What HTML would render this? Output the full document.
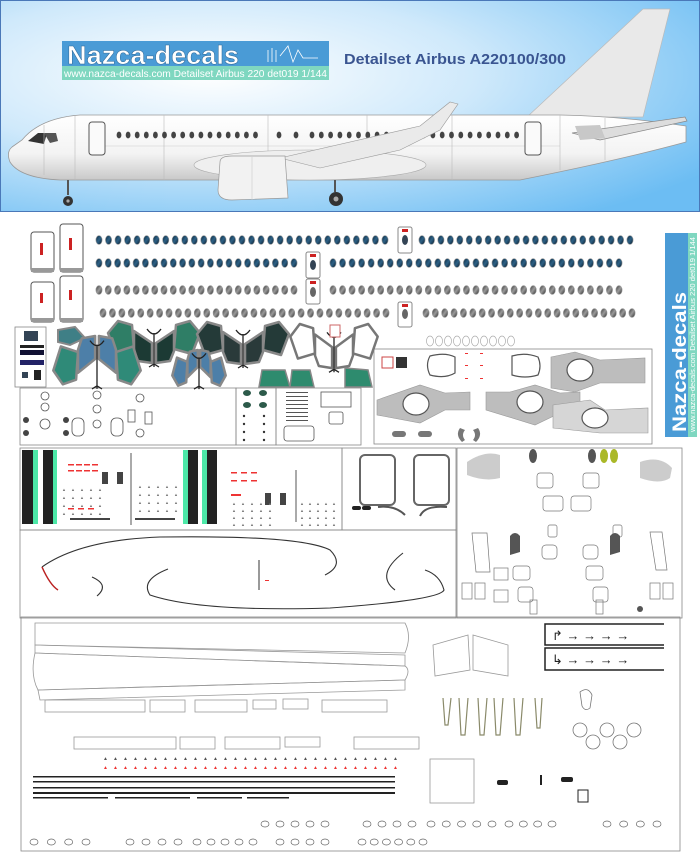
<!DOCTYPE html>
<html><head><meta charset="utf-8"><style>
html,body{margin:0;padding:0;background:#fff;}
svg{display:block}
text{font-family:"Liberation Sans",sans-serif}
</style></head><body>
<svg id="s" width="700" height="857" viewBox="0 0 700 857" xmlns="http://www.w3.org/2000/svg">
<defs>
<radialGradient id="sky" cx="0.3" cy="0.35" r="0.85">
<stop offset="0" stop-color="#ffffff"/><stop offset="0.45" stop-color="#cfe9fb"/><stop offset="1" stop-color="#6cbdf3"/>
</radialGradient>
<linearGradient id="fus" x1="0" y1="0" x2="0" y2="1">
<stop offset="0" stop-color="#ffffff"/><stop offset="0.6" stop-color="#f3f3f3"/><stop offset="1" stop-color="#c9c9c9"/>
</linearGradient>
<linearGradient id="win" x1="0" y1="0" x2="1" y2="1">
<stop offset="0" stop-color="#0d2a40"/><stop offset="0.5" stop-color="#2e6185"/><stop offset="1" stop-color="#0a1c2c"/>
</linearGradient>
<linearGradient id="grw" x1="0" y1="0" x2="1" y2="1">
<stop offset="0" stop-color="#3a3a3a"/><stop offset="0.5" stop-color="#9a9a9a"/><stop offset="1" stop-color="#2a2a2a"/>
</linearGradient>
</defs>
<rect x="0.5" y="0.5" width="699" height="211" fill="url(#sky)" stroke="#4a78b8"/>
<path d="M527 117 L643 9 L670 9 L643 117 Z" fill="#e9e9e9" stroke="#bbb" stroke-width="0.7"/>
<path d="M22 140 Q40 118 80 115 L560 115 Q620 116 686 126 L686 142 Q620 160 520 180 L60 180 Q20 178 10 162 Q6 152 12 147 Z" fill="url(#fus)" stroke="#999" stroke-width="0.8"/>
<path d="M28 141 L38 133 L47 133 L44 144 Z" fill="#333"/>
<path d="M44 133 L56 133 L58 141 L50 143Z" fill="#555"/>
<line x1="100" y1="146" x2="560" y2="146" stroke="#ccc" stroke-width="0.6"/>
<g stroke="#bbb" stroke-width="0.6"><line x1="44" y1="125" x2="44" y2="175"/><line x1="75" y1="116" x2="75" y2="180"/><line x1="164" y1="115" x2="164" y2="180"/><line x1="268" y1="115" x2="268" y2="176"/><line x1="367" y1="115" x2="367" y2="180"/><line x1="452" y1="115" x2="452" y2="180"/><line x1="560" y1="115" x2="560" y2="170"/><line x1="605" y1="118" x2="605" y2="160"/></g>
<rect x="89" y="122" width="16" height="33" rx="3" fill="#fafafa" stroke="#555"/>
<rect x="525" y="122" width="16" height="33" rx="3" fill="#fafafa" stroke="#555"/>
<g id="fw"></g>
<ellipse cx="310" cy="165" rx="116" ry="15" fill="#efefef" stroke="#aaa" stroke-width="0.6"/>
<path d="M280 158 L420 126 L450 102 L458 104 L440 130 L400 150 L320 168 Z" fill="#eaeaea" stroke="#999" stroke-width="0.6"/>
<path d="M220 162 Q220 156 232 156 L285 156 L288 198 L232 200 Q218 200 218 190 Z" fill="#f2f2f2" stroke="#999" stroke-width="0.7"/>
<line x1="252" y1="157" x2="252" y2="200" stroke="#ccc" stroke-width="0.6"/>
<path d="M572 133 L685 117 L687 121 L600 140 Z" fill="#ddd" stroke="#888" stroke-width="0.7"/>
<path d="M575 126 L600 125 L605 138 L580 140 Z" fill="#c8c8c8"/>
<line x1="68" y1="180" x2="68" y2="195" stroke="#555" stroke-width="2"/><circle cx="68" cy="201" r="5" fill="#333"/><circle cx="68" cy="201" r="1.6" fill="#aaa"/>
<line x1="335" y1="180" x2="335" y2="192" stroke="#555" stroke-width="2"/><circle cx="336" cy="199" r="7" fill="#333"/><circle cx="336" cy="199" r="2.5" fill="#aaa"/>
<rect x="62" y="41" width="267" height="25" fill="#4a9bd6"/>
<rect x="62" y="66" width="267" height="14" fill="#7fd7c0"/>
<text x="67" y="64" font-size="26" font-weight="bold" fill="#fff" stroke="#2f6a9a" stroke-width="0.5" textLength="172" lengthAdjust="spacingAndGlyphs">Nazca-decals</text>
<text x="64" y="77" font-size="10" fill="#fff" textLength="263" lengthAdjust="spacingAndGlyphs">www.nazca-decals.com  Detailset Airbus 220 det019 1/144</text>
<g stroke="#fff" stroke-width="0.8" fill="none"><path d="M268 50 L268 62 M272 48 L272 62 M276 50 L276 62 M280 56 L288 46 L293 62 L298 50 L303 58 L318 58"/></g>
<text x="344" y="64" font-size="15" font-weight="bold" fill="#3a5591" textLength="222" lengthAdjust="spacingAndGlyphs">Detailset Airbus A220100/300</text>
<g fill="none" stroke="#888" stroke-width="0.8">
<rect x="15" y="327" width="31" height="60"/>
<rect x="20" y="388" width="216" height="57"/>
<rect x="236" y="388" width="40" height="57"/>
<rect x="276" y="388" width="85" height="57"/>
<rect x="374" y="349" width="278" height="95"/>
<rect x="20" y="448" width="322" height="82"/>
<rect x="342" y="448" width="114" height="82"/>
<rect x="457" y="448" width="225" height="170"/>
<rect x="20" y="530" width="436" height="88"/>
<rect x="21" y="617" width="659" height="234"/>
</g>
<rect x="665" y="233" width="32" height="204" fill="#4a9bd6"/>
<rect x="688" y="233" width="9" height="204" fill="#7fd7c0"/>
<text transform="translate(686,432) rotate(-90)" font-size="19" font-weight="bold" fill="#fff" textLength="140" lengthAdjust="spacingAndGlyphs">Nazca-decals</text>
<text transform="translate(695,432) rotate(-90)" font-size="7" fill="#fff" textLength="195" lengthAdjust="spacingAndGlyphs">www.nazca-decals.com Detailset Airbus 220 det019 1/144</text>
<g fill="#fff" stroke="#555" stroke-width="1">
<rect x="31" y="232" width="23" height="40" rx="3"/><rect x="60" y="224" width="23" height="48" rx="3"/>
<rect x="31" y="282" width="23" height="40" rx="3"/><rect x="60" y="276" width="23" height="46" rx="3"/>
</g>
<g fill="#999"><rect x="31" y="268" width="23" height="4"/><rect x="60" y="268" width="23" height="4"/><rect x="31" y="318" width="23" height="4"/><rect x="60" y="318" width="23" height="4"/></g>
<g fill="#fff" stroke="#888" stroke-width="1">
<rect x="398" y="227" width="14" height="26" rx="2"/><rect x="306" y="252" width="14" height="26" rx="2"/>
<rect x="306" y="279" width="14" height="25" rx="2"/><rect x="398" y="302" width="14" height="25" rx="2"/>
</g>
<g fill="#c22"><rect x="40" y="243" width="3" height="12"/><rect x="69" y="238" width="3" height="12"/><rect x="40" y="293" width="3" height="10"/><rect x="69" y="290" width="3" height="10"/><rect x="402" y="229" width="6" height="3"/><rect x="310" y="254" width="6" height="3"/><rect x="310" y="281" width="6" height="3"/><rect x="402" y="304" width="6" height="3"/></g>
<g fill="#345"><ellipse cx="405" cy="240" rx="3" ry="5"/><ellipse cx="313" cy="265" rx="3" ry="5"/></g>
<g fill="#666"><ellipse cx="313" cy="292" rx="3" ry="5"/><ellipse cx="405" cy="314" rx="3" ry="5"/></g>
<g id="wins"></g>
<g id="bf"></g>
<rect x="24" y="331" width="14" height="10" fill="#345"/><rect x="20" y="345" width="24" height="3" fill="#222"/><rect x="20" y="350" width="24" height="5" fill="#113"/><rect x="20" y="360" width="24" height="5" fill="#226"/><rect x="22" y="372" width="6" height="6" fill="#345"/><rect x="34" y="370" width="7" height="10" fill="#222"/>
<g fill="#bdbdbd" stroke="#999" stroke-width="0.6">
<path d="M551 357 L575 352 L600 360 L645 358 L645 383 L600 383 L575 392 L551 388 Z"/>
<path d="M377 400 L420 385 L445 393 L470 392 L470 410 L445 410 L420 423 L377 415 Z"/>
<path d="M486 392 L510 392 L535 385 L560 393 L580 392 L580 410 L560 413 L535 425 L486 410 Z"/>
<path d="M553 405 L590 400 L605 410 L648 408 L648 433 L600 433 L553 428 Z" fill="#d6d6d6"/>
</g>
<g fill="#fff" stroke="#555" stroke-width="1.2">
<path d="M430 356 Q445 352 455 357 L455 373 Q445 379 430 375 Q425 365 430 356Z"/><path d="M512 356 Q525 352 538 357 Q542 366 538 375 Q525 379 512 375Z"/>
<ellipse cx="580" cy="370" rx="13" ry="11"/><ellipse cx="416" cy="404" rx="13" ry="11"/>
<ellipse cx="530" cy="402" rx="13" ry="11"/><ellipse cx="595" cy="418" rx="13" ry="10"/>
</g>
<g fill="#777"><rect x="392" y="431" width="14" height="6" rx="3"/><rect x="418" y="431" width="14" height="6" rx="3"/><path d="M460 428 Q455 435 462 442 L465 440 Q461 435 465 430Z"/><path d="M478 428 Q483 435 476 442 L473 440 Q477 435 473 430Z"/></g>
<g fill="#e33"><rect x="465" y="353" width="3" height="1"/><rect x="480" y="353" width="3" height="1"/><rect x="465" y="365" width="3" height="1"/><rect x="480" y="365" width="3" height="1"/><rect x="465" y="378" width="3" height="1"/><rect x="480" y="378" width="3" height="1"/></g>
<rect x="382" y="357" width="11" height="11" fill="#fff" stroke="#c44"/><rect x="396" y="357" width="11" height="11" fill="#333"/>
<g fill="none" stroke="#555" stroke-width="0.8">
<circle cx="45" cy="396" r="4"/><circle cx="45" cy="407" r="4"/><circle cx="45" cy="424" r="5"/><circle cx="97" cy="395" r="4"/><circle cx="97" cy="409" r="4"/><circle cx="97" cy="424" r="4"/><circle cx="140" cy="398" r="4"/><circle cx="140" cy="433" r="4"/>
<rect x="72" y="418" width="12" height="18" rx="5"/><rect x="111" y="418" width="12" height="18" rx="5"/>
<rect x="128" y="410" width="7" height="12"/><rect x="145" y="412" width="7" height="12"/>
<rect x="284" y="426" width="30" height="15" rx="3"/><rect x="321" y="392" width="30" height="15"/><rect x="329" y="412" width="14" height="12" rx="2"/>
</g>
<g fill="#444"><circle cx="26" cy="420" r="3"/><circle cx="66" cy="420" r="3"/><circle cx="26" cy="433" r="3"/><circle cx="66" cy="433" r="3"/></g>
<g fill="#2c5a4a"><ellipse cx="247" cy="393" rx="4" ry="3"/><ellipse cx="263" cy="393" rx="4" ry="3"/><ellipse cx="247" cy="405" rx="4" ry="3"/><ellipse cx="263" cy="405" rx="4" ry="3"/></g>
<g fill="#333"><circle cx="244" cy="416" r="1.2"/><circle cx="264" cy="416" r="1.2"/><circle cx="244" cy="424" r="1.2"/><circle cx="264" cy="424" r="1.2"/><circle cx="244" cy="432" r="1.2"/><circle cx="264" cy="432" r="1.2"/><circle cx="244" cy="440" r="1.2"/><circle cx="264" cy="440" r="1.2"/></g>
<g fill="#555"><rect x="286" y="392" width="22" height="1"/><rect x="286" y="396" width="22" height="1"/><rect x="286" y="400" width="22" height="1"/><rect x="286" y="404" width="22" height="1"/><rect x="286" y="408" width="22" height="1"/><rect x="286" y="412" width="22" height="1"/><rect x="286" y="416" width="22" height="1"/><rect x="286" y="420" width="22" height="1"/></g>
<g><rect x="22" y="450" width="11" height="74" fill="#222"/><rect x="33" y="450" width="5" height="74" fill="#4de8a8"/>
<rect x="43" y="450" width="10" height="74" fill="#222"/><rect x="53" y="450" width="4" height="74" fill="#4de8a8"/>
<rect x="183" y="450" width="5" height="74" fill="#4de8a8"/><rect x="188" y="450" width="10" height="74" fill="#222"/>
<rect x="202" y="450" width="5" height="74" fill="#4de8a8"/><rect x="207" y="450" width="10" height="74" fill="#222"/></g>
<g fill="#e33"><rect x="68" y="464" width="6" height="1.5"/><rect x="76" y="464" width="6" height="1.5"/><rect x="84" y="464" width="6" height="1.5"/><rect x="92" y="464" width="6" height="1.5"/><rect x="68" y="470" width="6" height="1.5"/><rect x="76" y="470" width="6" height="1.5"/><rect x="84" y="470" width="6" height="1.5"/><rect x="92" y="470" width="6" height="1.5"/><rect x="68" y="508" width="6" height="1.5"/><rect x="78" y="508" width="6" height="1.5"/><rect x="88" y="508" width="6" height="1.5"/>
<rect x="231" y="472" width="6" height="1.5"/><rect x="241" y="472" width="6" height="1.5"/><rect x="251" y="472" width="6" height="1.5"/><rect x="231" y="480" width="6" height="1.5"/><rect x="241" y="480" width="6" height="1.5"/><rect x="251" y="480" width="6" height="1.5"/><rect x="231" y="494" width="10" height="2"/></g>
<g fill="#444"><rect x="102" y="472" width="6" height="12"/><rect x="117" y="472" width="6" height="12"/><rect x="265" y="493" width="6" height="12"/><rect x="280" y="493" width="6" height="12"/><rect x="70" y="518" width="40" height="2"/><rect x="135" y="518" width="40" height="2"/></g>
<g stroke="#555"><line x1="131" y1="453" x2="131" y2="525"/><line x1="296" y1="470" x2="296" y2="522"/></g>
<g id="tri"></g>
<g fill="#fff" stroke="#666" stroke-width="2"><rect x="360" y="455" width="35" height="50" rx="5"/><rect x="414" y="455" width="35" height="50" rx="5"/></g>
<g fill="#222"><rect x="352" y="506" width="9" height="4" rx="2"/><rect x="362" y="506" width="9" height="4" rx="2"/></g>
<g fill="none" stroke="#555" stroke-width="2"><path d="M378 507 Q395 505 405 515"/><path d="M447 507 Q425 505 420 516"/></g>
<g fill="none" stroke="#333" stroke-width="1.1">
<path d="M42 567 Q80 540 160 537 Q300 535 330 550 Q345 565 325 575"/>
<path d="M42 567 Q50 585 58 590" stroke="#b22" stroke-width="1.5"/>
<path d="M92 577 Q110 585 97 596"/>
<path d="M168 569 Q140 580 150 595 Q200 612 330 608 Q440 600 444 590 Q440 575 425 570"/>
<path d="M403 553 Q375 575 395 590"/>
</g>
<line x1="259" y1="560" x2="259" y2="590" stroke="#333"/><rect x="265" y="580" width="4" height="1" fill="#e33"/>
<g fill="#ccc"><path d="M467 462 Q485 450 500 455 L500 478 Q485 482 467 475Z"/><path d="M640 462 Q660 455 672 468 L670 478 Q660 485 640 478Z"/></g>
<g fill="#555"><ellipse cx="533" cy="456" rx="4" ry="7"/><ellipse cx="592" cy="456" rx="4" ry="7"/></g>
<g fill="#aab828"><ellipse cx="604" cy="456" rx="4" ry="7"/><ellipse cx="614" cy="456" rx="4" ry="7"/></g>
<g fill="none" stroke="#777" stroke-width="0.7">
<rect x="537" y="473" width="16" height="15" rx="3"/><rect x="583" y="473" width="16" height="15" rx="3"/>
<rect x="543" y="496" width="20" height="15" rx="3"/><rect x="571" y="496" width="20" height="15" rx="3"/>
<rect x="548" y="525" width="9" height="12" rx="2"/><rect x="613" y="525" width="9" height="12" rx="2"/>
<rect x="542" y="545" width="15" height="14" rx="4"/><rect x="583" y="545" width="15" height="14" rx="4"/>
<path d="M472 533 L487 533 L490 572 L476 572Z"/><path d="M650 532 L662 532 L667 570 L656 570Z"/>
<rect x="494" y="568" width="14" height="12"/><rect x="513" y="566" width="17" height="14" rx="3"/><rect x="586" y="566" width="17" height="14" rx="3"/>
<rect x="494" y="590" width="14" height="12"/><rect x="518" y="587" width="15" height="15" rx="3"/><rect x="593" y="587" width="15" height="15" rx="3"/>
<rect x="462" y="583" width="10" height="16"/><rect x="475" y="583" width="10" height="16"/><rect x="650" y="583" width="10" height="16"/><rect x="663" y="583" width="10" height="16"/>
<rect x="530" y="600" width="7" height="14"/><rect x="596" y="600" width="7" height="14"/>
</g>
<g fill="#555"><path d="M510 536 Q515 530 520 536 L520 552 L510 555Z"/><path d="M610 536 Q615 530 620 536 L620 552 L610 555Z"/><circle cx="640" cy="609" r="3"/></g>
<g fill="none" stroke="#999" stroke-width="0.8">
<path d="M35 623 L405 623 Q412 636 405 653 L35 645 Z"/><path d="M35 645 L405 655 L405 666 L35 653Z"/>
<path d="M35 653 Q30 675 38 690 L405 680 Q411 670 405 666 Z"/><path d="M38 690 L405 680 L405 690 L40 700Z"/>
<rect x="45" y="700" width="100" height="12"/><rect x="150" y="700" width="35" height="12"/><rect x="195" y="700" width="52" height="12"/><rect x="253" y="700" width="23" height="9"/><rect x="283" y="699" width="25" height="10"/><rect x="322" y="700" width="65" height="12"/>
<rect x="74" y="737" width="102" height="12"/><rect x="180" y="737" width="35" height="12"/><rect x="225" y="737" width="55" height="12"/><rect x="285" y="737" width="35" height="10"/><rect x="354" y="737" width="65" height="12"/>
<path d="M433 645 L468 635 L470 670 L435 676Z"/><path d="M473 635 L508 645 L508 676 L473 670Z"/>
<rect x="430" y="759" width="44" height="44"/>
</g>
<g fill="#222"><rect x="33" y="776" width="362" height="1.5"/><rect x="33" y="781" width="362" height="1.5"/><rect x="33" y="787" width="362" height="1.5"/><rect x="33" y="792" width="362" height="2"/>
<rect x="33" y="797" width="75" height="1.5"/><rect x="115" y="797" width="75" height="1.5"/><rect x="197" y="797" width="45" height="1.5"/><rect x="247" y="797" width="42" height="1.5"/></g>
<g fill="none" stroke="#222" stroke-width="1.5"><path d="M664 624 L545 624 L545 645 L664 645"/><path d="M664 648 L545 648 L545 670 L664 670"/></g>
<text x="552" y="640" font-size="13" fill="#222">↱ → → → →</text>
<text x="552" y="664" font-size="13" fill="#222">↳ → → → →</text>
<g fill="none" stroke="#8a8a6a" stroke-width="1.2">
<path d="M443 698 L445 725 L448 725 L451 698"/><path d="M459 698 L461 735 L465 735 L468 698"/><path d="M478 698 L480 735 L484 735 L487 698"/><path d="M494 698 L496 735 L500 735 L503 698"/><path d="M514 698 L516 735 L520 735 L523 698"/><path d="M535 698 L537 728 L540 728 L542 698"/>
</g>
<g fill="none" stroke="#777" stroke-width="0.8"><path d="M580 692 Q588 686 592 695 L590 708 Q585 712 582 706Z"/><circle cx="580" cy="730" r="7"/><circle cx="607" cy="730" r="7"/><circle cx="634" cy="730" r="7"/><circle cx="593" cy="742" r="7"/><circle cx="620" cy="742" r="7"/></g>
<g fill="#222"><rect x="497" y="780" width="11" height="5" rx="2"/><rect x="561" y="777" width="12" height="5" rx="2"/><rect x="540" y="775" width="2" height="10"/><rect x="578" y="790" width="10" height="12" fill="none" stroke="#222"/></g>
<g id="ovals" fill="none" stroke="#666" stroke-width="0.7"></g>
</svg>
<script>
var NS="http://www.w3.org/2000/svg";
function el(p,t,a){var e=document.createElementNS(NS,t);for(var k in a)e.setAttribute(k,a[k]);p.appendChild(e);return e;}
var fw=document.getElementById('fw');
for(var x=119;x<=262;x+=9.1)el(fw,'ellipse',{cx:x,cy:135,rx:2.4,ry:3.4,fill:'#444'});
el(fw,'ellipse',{cx:279,cy:135,rx:2.4,ry:3.4,fill:'#444'});el(fw,'ellipse',{cx:296,cy:135,rx:2.4,ry:3.4,fill:'#444'});
for(var x=312;x<=518;x+=9.3)el(fw,'ellipse',{cx:x,cy:135,rx:2.4,ry:3.4,fill:'#444'});
var w=document.getElementById('wins');
var rows=[[240,'url(#win)',99,385,422,630],[263,'url(#win)',99,294,333,619],[290,'url(#grw)',99,294,333,619],[313,'url(#grw)',103,386,426,632]];
rows.forEach(function(r){var n=Math.round((r[3]-r[2])/9.4);for(var i=0;i<=n;i++)el(w,'ellipse',{cx:r[2]+i*(r[3]-r[2])/n,cy:r[0],rx:3.1,ry:4.4,fill:r[1],stroke:'#999','stroke-width':0.6});
n=Math.round((r[5]-r[4])/9.4);for(var i=0;i<=n;i++)el(w,'ellipse',{cx:r[4]+i*(r[5]-r[4])/n,cy:r[0],rx:3.1,ry:4.4,fill:r[1],stroke:'#999','stroke-width':0.6});});
for(var i=0;i<10;i++)el(w,'ellipse',{cx:430+i*9,cy:341,rx:3.5,ry:5,fill:'none',stroke:'#aaa','stroke-width':0.7});
var bf=document.getElementById('bf');
var OUT=[[-46,12],[-36,0],[-22,4],[-20,28],[-38,33]], IN=[[-20,10],[-2,22],[-2,42],[-16,40],[-20,30]];
function butter(cx,y0,sx,sy,flip,c1,c2,st){
 function pts(P,m){return P.map(function(p){var dy=flip?42-p[1]:p[1];return (cx+m*p[0]*sx).toFixed(1)+','+(y0+dy*sy).toFixed(1);}).join(' ');}
 [[OUT,c1],[IN,c2]].forEach(function(q){[1,-1].forEach(function(m){el(bf,'polygon',{points:pts(q[0],m),fill:q[1],stroke:st||'#888','stroke-width':2.5,'stroke-linejoin':'round'});});});
 var ya=y0+(flip?4:8)*sy, yb=y0+(flip?46:46)*sy;
 el(bf,'path',{d:'M'+(cx-7)+' '+ya+' Q'+cx+' '+(ya+10)+' '+(cx+7)+' '+ya+' M'+cx+' '+(ya+4)+' L'+cx+' '+yb+' M'+(cx-5)+' '+yb+' L'+cx+' '+(yb-3)+' L'+(cx+5)+' '+yb,stroke:'#222','stroke-width':1.3,fill:'none'});
}
el(bf,'path',{d:'M58 330 L75 327 L85 338 L70 345 L58 342Z',fill:'#3f7f86',stroke:'#888','stroke-width':2});
butter(154,321,1,1,false,'#2f7e66','#1c3a34');
butter(243,322,1,1,false,'#243a38','#2a3a3a');
butter(97,336,0.95,1.15,true,'#2f8a78','#4d7fa8');
butter(199,350,0.58,0.85,true,'#4d7fa8','#4d7fa8');
butter(334,324,0.95,1.05,false,'#fff','#fff','#777');
var g=[[262,370,285,370,290,387,259,387],[292,370,310,370,314,387,290,387],[345,368,368,370,372,387,345,387]];
g.forEach(function(p){el(bf,'path',{d:'M'+p[0]+' '+p[1]+' L'+p[2]+' '+p[3]+' L'+p[4]+' '+p[5]+' L'+p[6]+' '+p[7]+'Z',fill:'#2e8b6e',stroke:'#888','stroke-width':1.5});});
el(bf,'rect',{x:330,y:325,width:10,height:12,fill:'#fff',stroke:'#c66'});
var o=document.getElementById('ovals');
function row(a,b,n,y){for(var i=0;i<n;i++)el(o,'ellipse',{cx:a+i*(b-a)/Math.max(1,n-1),cy:y,rx:4,ry:3});}
row(265,325,5,824);row(367,412,4,824);row(431,492,5,824);row(509,552,4,824);row(607,657,4,824);
row(34,86,4,842);row(130,178,4,842);row(197,253,5,842);row(280,325,4,842);row(362,423,6,842);
var t=document.getElementById('tri');
for(var x=103;x<=399;x+=10){el(t,'text',{x:x,y:760,'font-size':5,fill:'#555'}).textContent='▲';el(t,'text',{x:x,y:769,'font-size':5,fill:'#e33'}).textContent='▲';}
for(var r=0;r<4;r++)for(var c=0;c<5;c++){el(t,'text',{x:62+c*9,y:491+r*8,'font-size':4,fill:'#777'}).textContent='▲';el(t,'text',{x:232+c*9,y:505+r*7,'font-size':4,fill:'#777'}).textContent='▲';el(t,'text',{x:138+c*9,y:488+r*8,'font-size':4,fill:'#777'}).textContent='▲';el(t,'text',{x:300+c*8,y:505+r*7,'font-size':4,fill:'#777'}).textContent='▲';}
</script>
</body></html>
